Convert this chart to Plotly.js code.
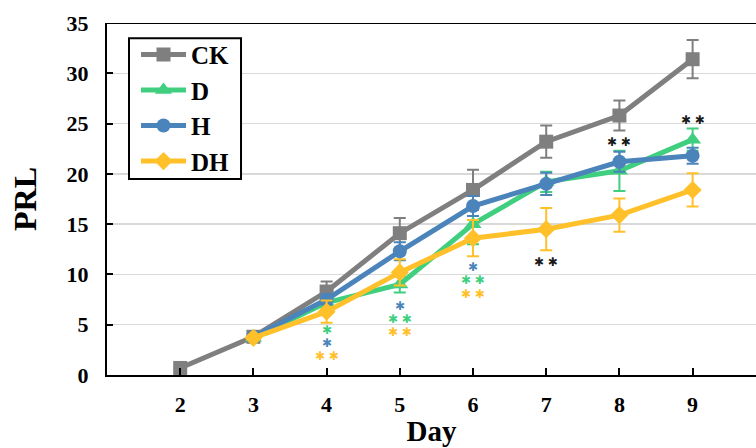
<!DOCTYPE html>
<html>
<head>
<meta charset="utf-8">
<script src="https://cdn.plot.ly/plotly-3.0.1.min.js"></script>
<style>html,body{margin:0;padding:0;overflow:hidden;background:#fff;}#chart{width:756px;height:448px;}</style>
</head>
<body>
<div id="chart"></div>
<script>
const days = [2, 3, 4, 5, 6, 7, 8, 9];
const seriesNames = ["CK", "D", "H", "DH"];
const ckValues = [0.7, 3.8, 8.3, 14.1, 18.4, 23.2, 25.8, 31.4];
const ckErrors = [0, 0.2, 1.0, 1.5, 2.0, 1.6, 1.5, 1.9];
const dValues = [null, 3.7, 7.2, 9.0, 15.0, 19.2, 20.3, 23.4];
const dErrors = [0, 0.2, 0.5, 0.8, 2.0, 1.0, 2.0, 1.1];
const hValues = [null, 3.8, 7.5, 12.3, 16.8, 19.0, 21.2, 21.8];
const hErrors = [0, 0.2, 0.5, 0.9, 1.0, 1.1, 1.0, 0.8];
const dhValues = [null, 3.7, 6.3, 10.2, 13.6, 14.5, 15.9, 18.4];
const dhErrors = [0, 0.2, 1.1, 1.3, 1.8, 2.1, 1.65, 1.65];

// significance marks: day, y (data units), label, series colour key
const sigDays = [4, 4, 4, 5, 5, 5, 6, 6, 6, 7, 8, 9];
const sigY = [4.5, 3.2, 1.9, 6.9, 5.6, 4.3, 10.7, 9.4, 8.1, 11.2, 23.2, 25.4];
const sigText = ["*", "*", "**", "*", "**", "**", "*", "**", "**", "**", "**", "**"];
const sigGroup = ["D", "H", "DH", "H", "D", "DH", "H", "D", "DH", "CK", "CK", "CK"];

const colors = {CK: "#7f7f7f", D: "#3fcf7f", H: "#4a84bb", DH: "#ffc02a"};
const sigColors = {CK: "#1a1a1a", D: "#3fcf7f", H: "#4a84bb", DH: "#ffc02a"};
const symbols = {CK: "square", D: "triangle-up", H: "circle", DH: "diamond"};
const vals = {CK: ckValues, D: dValues, H: hValues, DH: dhValues};
const errs = {CK: ckErrors, D: dErrors, H: hErrors, DH: dhErrors};

const traces = seriesNames.map(n => ({
  type: "scatter",
  mode: "lines+markers",
  name: n,
  x: days,
  y: vals[n],
  line: {color: colors[n], width: 5},
  marker: {symbol: symbols[n], size: n === "D" ? 15 : 14, color: colors[n]},
  error_y: {type: "data", array: errs[n], visible: true, color: colors[n], thickness: 2, width: 6},
  connectgaps: false
}));

const serif = "Liberation Serif, Times New Roman, serif";
const annotations = sigDays.map((d, i) => ({
  x: d, y: sigY[i], xref: "x", yref: "y",
  text: sigText[i].split("").map(() => "\u2731").join(" "),
  showarrow: false,
  font: {family: "DejaVu Sans", size: 12, color: sigColors[sigGroup[i]]},
  yanchor: "middle", xanchor: "center", borderpad: 0
}));

const layout = {
  width: 756, height: 448,
  margin: {l: 107, r: 0, t: 23, b: 73},
  paper_bgcolor: "#fff", plot_bgcolor: "#fff",
  showlegend: true,
  legend: {
    x: 0.0447, y: 0.975, xanchor: "left", yanchor: "top",
    borderwidth: 0, bgcolor: "rgba(0,0,0,0)",
    font: {family: serif, size: 25, color: "#000", weight: "bold"},
    itemwidth: 45, tracegroupgap: 0
  },
  xaxis: {
    range: [1, 9.866],
    tickvals: days, ticktext: days.map(String),
    ticks: "inside", ticklen: 7, tickwidth: 2, tickcolor: "#000",
    showline: true, linecolor: "#000", linewidth: 2,
    showgrid: false, zeroline: false,
    tickfont: {family: serif, size: 22, color: "#000", weight: "bold"},
    ticklabelstandoff: 9,
    title: {text: "Day", font: {family: serif, size: 29, color: "#000", weight: "bold"}, standoff: 4}
  },
  yaxis: {
    range: [0, 35],
    tickvals: [0, 5, 10, 15, 20, 25, 30, 35],
    ticks: "inside", ticklen: 6, tickwidth: 2, tickcolor: "#000",
    showline: true, linecolor: "#000", linewidth: 2,
    showgrid: true, gridcolor: "#d9d9d9", gridwidth: 1.5,
    zeroline: false,
    tickfont: {family: serif, size: 22, color: "#000", weight: "bold"},
    ticklabelstandoff: 12,
    title: {text: "PRL", font: {family: serif, size: 32, color: "#000", weight: "bold"}, standoff: 20}
  },
  shapes: [
    {type: "line", xref: "paper", yref: "y", x0: 0, x1: 1, y0: 35, y1: 35, line: {color: "#000", width: 2}},
    {type: "rect", xref: "paper", yref: "paper", x0: 0.0339, x1: 0.2065, y0: 0.557, y1: 0.957,
     line: {color: "#000", width: 2}, fillcolor: "#fff", layer: "above"}
  ],
  annotations: annotations
};

Plotly.newPlot("chart", traces, layout, {displayModeBar: false, staticPlot: true});
</script>
</body>
</html>
